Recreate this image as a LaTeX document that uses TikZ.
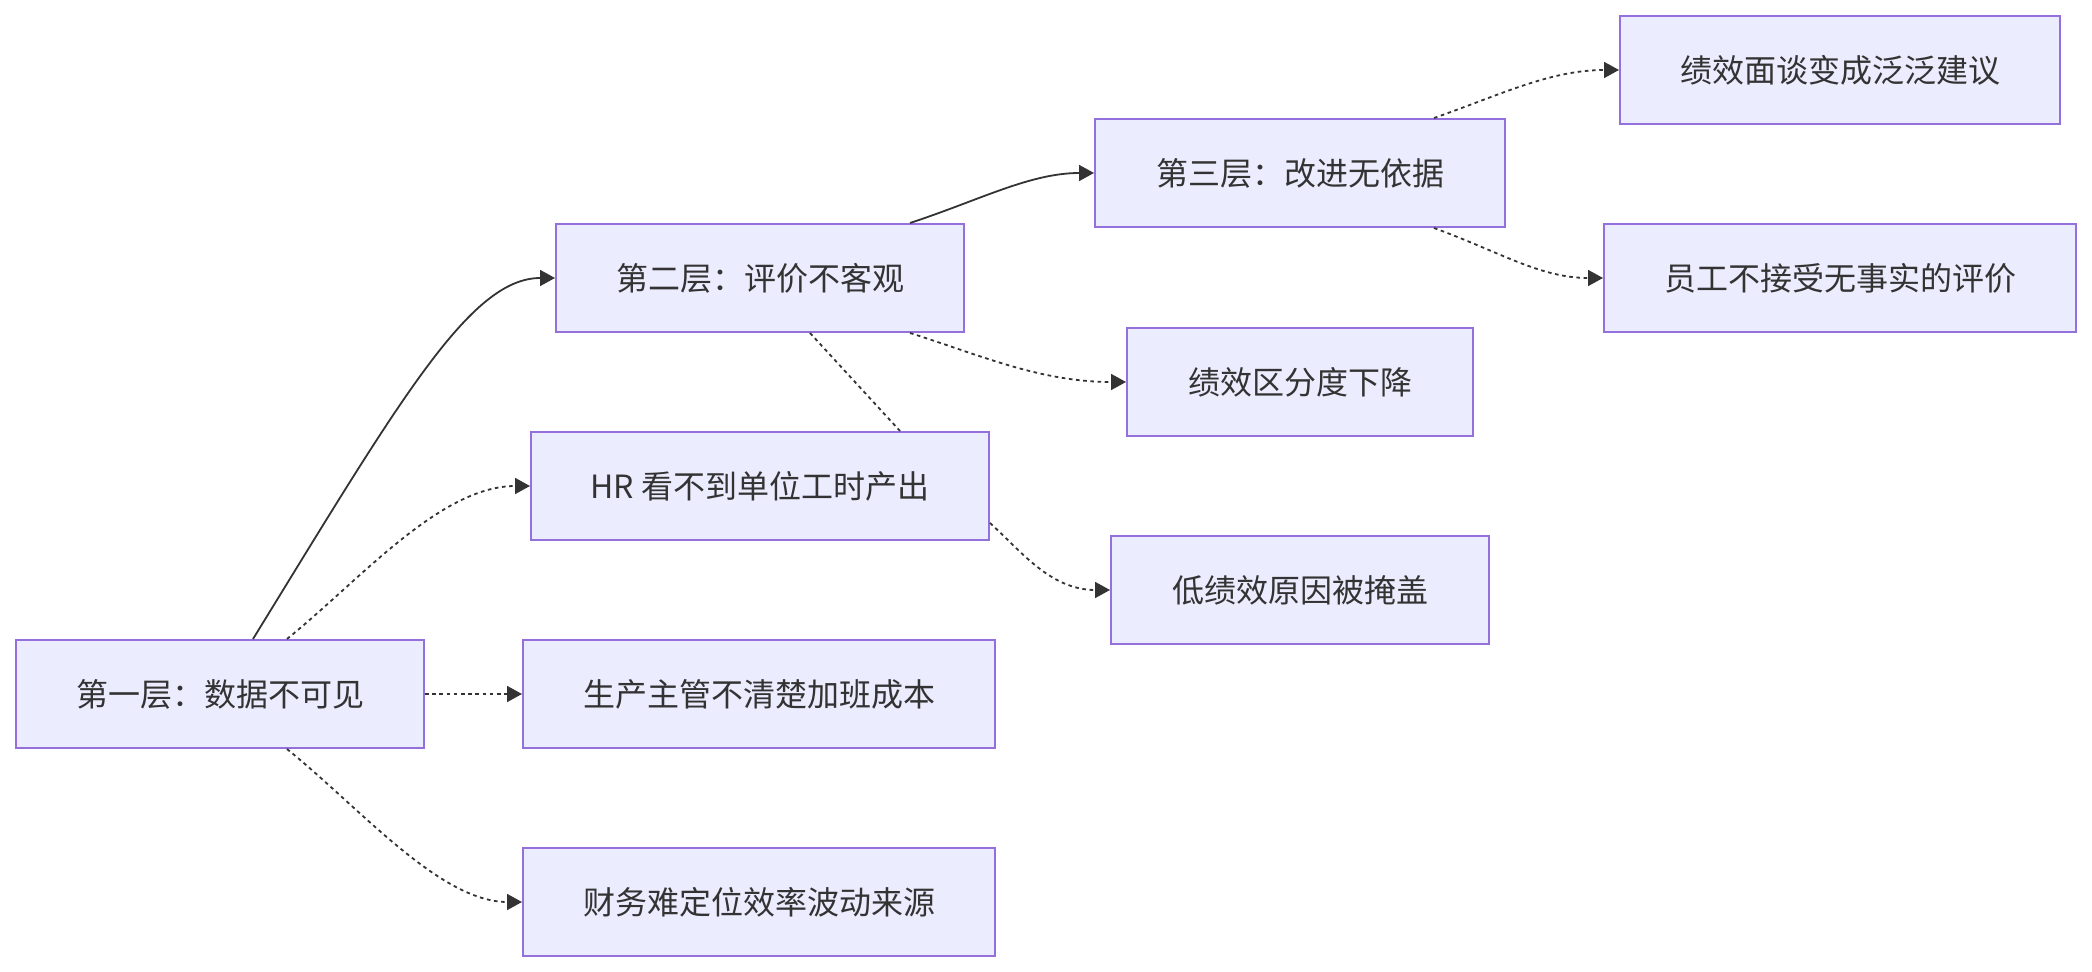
\documentclass[tikz,border=0pt]{standalone}
\usepackage{fontspec}
\setmainfont{Noto Sans CJK SC}
\usetikzlibrary{arrows.meta,calc}
\definecolor{boxfill}{HTML}{ECECFF}
\definecolor{boxline}{HTML}{9370DB}
\definecolor{ink}{HTML}{333333}

\begin{document}
\begin{tikzpicture}[x=0.5pt,y=-0.5pt,
    box/.style={draw=boxline,fill=boxfill,line width=1pt,minimum height=54pt,inner sep=0pt,text=ink,font=\fontsize{16pt}{19pt}\selectfont},
    link/.style={draw=ink,line width=0.9pt,-{Triangle[length=7.5pt,width=8pt]}},
    dots/.style={link,dash pattern=on 1.8pt off 1.8pt}]
        \useasboundingbox (0,0) rectangle (2092,972);
        % 第一层及其后果
        \node[box,minimum width=204pt] (L1) at (220,694) {第一层：数据不可见};
        \node[box,minimum width=236pt] (cost) at (759,694) {生产主管不清楚加班成本};
        \node[box,minimum width=236pt] (fin) at (759,902) {财务难定位效率波动来源};
        \node[box,minimum width=229pt] (hr) at (760,486) {HR 看不到单位工时产出};
        % 第二层及其后果
        \node[box,minimum width=204pt] (L2) at (760,278) {第二层：评价不客观};
        \node[box,minimum width=173pt] (dist) at (1300,382) {绩效区分度下降};
        \node[box,minimum width=189pt] (low) at (1300,590) {低绩效原因被掩盖};
        % 第三层及其后果
        \node[box,minimum width=205pt] (L3) at (1300,173) {第三层：改进无依据};
        \node[box,minimum width=220pt] (talk) at (1840,70) {绩效面谈变成泛泛建议};
        \node[box,minimum width=236pt] (emp) at (1840,278) {员工不接受无事实的评价};
        % 连线
        \draw[link] ($(L1.north)+(33,0)$) .. controls (400,400) and (470,278) .. (L2.west);
        \draw[dots] ($(L1.north)+(67,0)$) .. controls (360,580) and (440,486) .. (hr.west);
        \draw[dots] (L1.east) -- (cost.west);
        \draw[dots] ($(L1.south)+(67,0)$) .. controls (360,808) and (440,902) .. (fin.west);
        \draw[link] ($(L2.north)+(150,0)$) .. controls (980,200) and (1030,173) .. (L3.west);
        \draw[dots] ($(L2.south)+(150,0)$) .. controls (980,355) and (1040,382) .. (dist.west);
        \draw[dots,-] ($(L2.south)+(50,0)$) -- ($(hr.north)+(140,0)$);
        \draw[dots] ($(hr.east)+(0,37)$) .. controls (1020,550) and (1050,590) .. (low.west);
        \draw[dots] ($(L3.north)+(134,0)$) .. controls (1500,95) and (1550,70) .. (talk.west);
        \draw[dots] ($(L3.south)+(134,0)$) .. controls (1500,252) and (1540,278) .. (emp.west);
\end{tikzpicture}
\end{document}
